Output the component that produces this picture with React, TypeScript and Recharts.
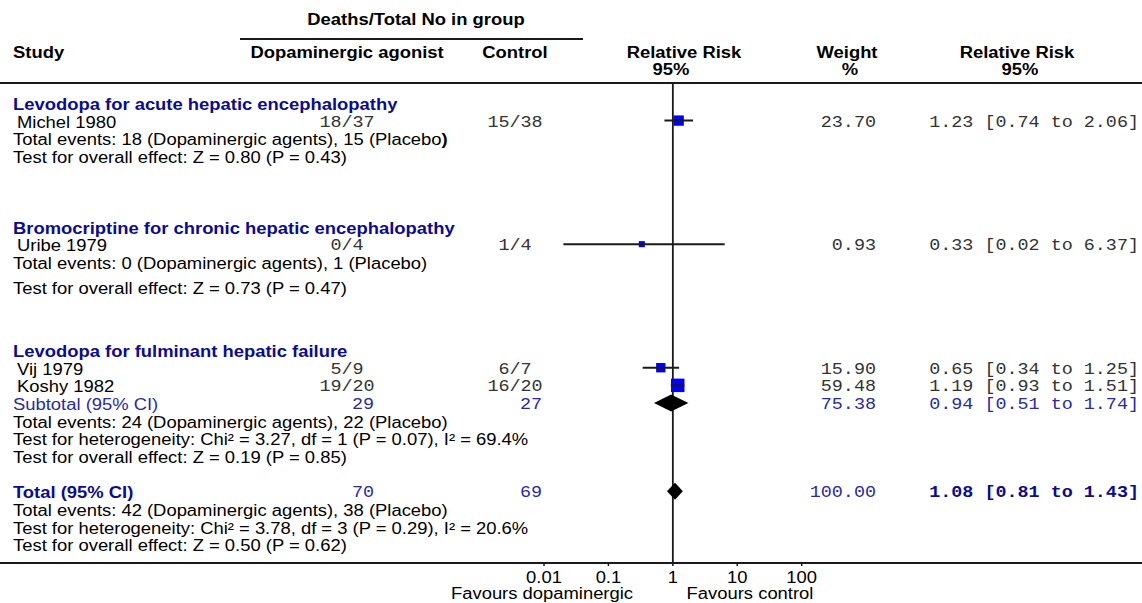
import React from "react";
import { ComposedChart, Scatter, XAxis, YAxis, ReferenceLine } from "recharts";

// ---- data ----
const groupTitles = [
  "Levodopa for acute hepatic encephalopathy",
  "Bromocriptine for chronic hepatic encephalopathy",
  "Levodopa for fulminant hepatic failure",
];

const studyNames = ["Michel 1980", "Uribe 1979", "Vij 1979", "Koshy 1982"];
const studyTreat = ["18/37", "0/4", "5/9", "19/20"];
const studyControl = ["15/38", "1/4", "6/7", "16/20"];
const studyRR = [1.23, 0.33, 0.65, 1.19];
const studyLow = [0.74, 0.02, 0.34, 0.93];
const studyHigh = [2.06, 6.37, 1.25, 1.51];
const studyWeight = [23.7, 0.93, 15.9, 59.48];

const pooledNames = ["Subtotal (95% CI)", "Total (95% CI)"];
const pooledTreat = [29, 70];
const pooledControl = [27, 69];
const pooledRR = [0.94, 1.08];
const pooledLow = [0.51, 0.81];
const pooledHigh = [1.74, 1.43];
const pooledWeight = [75.38, 100];

const xTicks = [0.01, 0.1, 1, 10, 100];

// ---- layout ----
const SANS = '"Liberation Sans", Arial, sans-serif';
const MONO = '"Liberation Mono", "Courier New", monospace';
const STRETCH = 1.15;
const W = 1142;
const H = 603;
const PLOT_TOP = 83;
const PLOT_BOTTOM = 563;
const ROW0 = 120.6;
const ROW_STEP = 17.65;
const lineY = (l: number) => ROW0 + ROW_STEP * l;
const yDomain = [(PLOT_TOP - ROW0) / ROW_STEP, (PLOT_BOTTOM - ROW0) / ROW_STEP];

const GROUP_ROWS = [-1, 6, 13];
const STUDY_ROWS = [0, 7, 14, 15];
const POOLED_ROWS = [16, 21];
const DIAMOND_HALF = 0.48;

const NAVY = "#0c0c8c";
const SUB_BLUE = "#2a2aa2";
const INK = "#1a1a1a";
const NUM = "#333";

type TProps = {
  x: number;
  y: number;
  children: React.ReactNode;
  anchor?: "start" | "middle" | "end";
  bold?: boolean;
  mono?: boolean;
  color?: string;
};

function T({ x, y, children, anchor = "start", bold, mono, color = "#000" }: TProps) {
  const shift = anchor === "middle" ? "-50%" : anchor === "end" ? "-100%" : "0";
  const origin = anchor === "middle" ? "center" : anchor === "end" ? "right" : "left";
  return (
    <div
      style={{
        position: "absolute",
        left: x,
        top: y - 8.5,
        whiteSpace: "nowrap",
        fontFamily: mono ? MONO : SANS,
        fontSize: 16,
        lineHeight: "16px",
        fontWeight: bold ? 700 : 400,
        color,
        transform: `translateX(${shift}) scaleX(${STRETCH})`,
        transformOrigin: `${origin} center`,
      }}
    >
      {children}
    </div>
  );
}

function Rule({ x1, x2, y }: { x1: number; x2: number; y: number }) {
  return (
    <div style={{ position: "absolute", left: x1, top: y - 1, width: x2 - x1, height: 2, background: INK }} />
  );
}

// square (size from weight) with the CI line drawn over it; points are [low, estimate, high]
const ciWithSquare = (weight: number) => (props: any) => {
  const pts = props.points || [];
  if (pts.length < 3) return <g />;
  const [lo, est, hi] = pts;
  const s = 5 + 1.1 * Math.sqrt(weight);
  return (
    <g>
      <rect x={est.x - s / 2} y={est.y - s / 2} width={s} height={s} fill="#0000ff" />
      <line x1={lo.x} y1={lo.y} x2={hi.x} y2={hi.y} stroke={INK} strokeWidth={2} />
    </g>
  );
};

const diamondFill = (props: any) => {
  const pts = (props.points || []).map((p: any) => `${p.x},${p.y}`).join(" ");
  return <polygon points={pts} fill="#000" stroke="none" />;
};

const Tick = (props: any) => {
  const { x, y, payload } = props;
  return (
    <g transform={`translate(${x},${y}) scale(${STRETCH},1)`}>
      <text x={0} y={0} dy={15} textAnchor="middle" fontFamily={SANS} fontSize={16} fill="#000">
        {String(payload.value)}
      </text>
    </g>
  );
};

const noDot = () => <g />;

const notes: { row: number; text: React.ReactNode }[] = [
  { row: 1, text: <>Total events: 18 (Dopaminergic agents), 15 (Placebo<b>)</b></> },
  { row: 2, text: "Test for overall effect: Z = 0.80 (P = 0.43)" },
  { row: 8, text: "Total events: 0 (Dopaminergic agents), 1 (Placebo)" },
  { row: 9.4, text: "Test for overall effect: Z = 0.73 (P = 0.47)" },
  { row: 17, text: "Total events: 24 (Dopaminergic agents), 22 (Placebo)" },
  { row: 18, text: "Test for heterogeneity: Chi² = 3.27, df = 1 (P = 0.07), I² = 69.4%" },
  { row: 19, text: "Test for overall effect: Z = 0.19 (P = 0.85)" },
  { row: 22, text: "Total events: 42 (Dopaminergic agents), 38 (Placebo)" },
  { row: 23, text: "Test for heterogeneity: Chi² = 3.78, df = 3 (P = 0.29), I² = 20.6%" },
  { row: 24, text: "Test for overall effect: Z = 0.50 (P = 0.62)" },
];

const ciText = (r: number, lo: number, hi: number) =>
  `${r.toFixed(2)} [${lo.toFixed(2)} to ${hi.toFixed(2)}]`;

export default function App() {
  const studySeries = studyNames.map((_, i) => [
    { x: studyLow[i], y: STUDY_ROWS[i] },
    { x: studyRR[i], y: STUDY_ROWS[i] },
    { x: studyHigh[i], y: STUDY_ROWS[i] },
  ]);
  const diamonds = pooledNames.map((_, i) => [
    { x: pooledLow[i], y: POOLED_ROWS[i] },
    { x: pooledRR[i], y: POOLED_ROWS[i] - DIAMOND_HALF },
    { x: pooledHigh[i], y: POOLED_ROWS[i] },
    { x: pooledRR[i], y: POOLED_ROWS[i] + DIAMOND_HALF },
  ]);

  return (
    <div style={{ position: "absolute", left: 0, top: 0, width: W, height: H, background: "#fff" }}>
      <ComposedChart
        width={W}
        height={H}
        margin={{ top: PLOT_TOP, right: W - 801.7, bottom: 0, left: 544 }}
        style={{ position: "absolute", left: 0, top: 0 }}
      >
        <XAxis
          dataKey="x"
          type="number"
          scale="log"
          domain={[0.01, 100]}
          ticks={xTicks}
          allowDataOverflow
          height={H - PLOT_BOTTOM}
          axisLine={false}
          tickLine={{ stroke: INK, strokeWidth: 1.5 }}
          tickSize={3}
          tickMargin={2}
          tick={<Tick />}
        />
        <YAxis dataKey="y" type="number" domain={yDomain} reversed hide allowDataOverflow />
        <ReferenceLine x={1} stroke={INK} strokeWidth={1.8} />
        {studySeries.map((d, i) => (
          <Scatter
            key={studyNames[i]}
            data={d}
            shape={noDot}
            line={ciWithSquare(studyWeight[i])}
            lineType="joint"
            isAnimationActive={false}
          />
        ))}
        {diamonds.map((d, i) => (
          <Scatter
            key={pooledNames[i]}
            data={d}
            shape={noDot}
            line={diamondFill}
            lineType="joint"
            isAnimationActive={false}
          />
        ))}
      </ComposedChart>

      {/* header */}
      <T x={415.5} y={20.7} anchor="middle" bold>Deaths/Total No in group</T>
      <Rule x1={240} x2={583} y={38.5} />
      <T x={13} y={53} bold>Study</T>
      <T x={346.5} y={53} anchor="middle" bold>Dopaminergic agonist</T>
      <T x={514.5} y={53} anchor="middle" bold>Control</T>
      <T x={684} y={53} anchor="middle" bold>Relative Risk</T>
      <T x={671} y={70} anchor="middle" bold>95%</T>
      <T x={847} y={53} anchor="middle" bold>Weight</T>
      <T x={850} y={70} anchor="middle" bold>%</T>
      <T x={1017} y={53} anchor="middle" bold>Relative Risk</T>
      <T x={1020} y={70} anchor="middle" bold>95%</T>
      <Rule x1={0} x2={W} y={PLOT_TOP} />

      {/* groups */}
      {groupTitles.map((g, i) => (
        <T key={g} x={13} y={lineY(GROUP_ROWS[i]) + 2.5} bold color={NAVY}>{g}</T>
      ))}

      {/* studies */}
      {studyNames.map((n, i) => {
        const y = lineY(STUDY_ROWS[i]) + 2.5;
        return (
          <React.Fragment key={n}>
            <T x={17} y={y}>{n}</T>
            <T x={346.5} y={y} anchor="middle" mono color={NUM}>{studyTreat[i]}</T>
            <T x={514.5} y={y} anchor="middle" mono color={NUM}>{studyControl[i]}</T>
            <T x={876} y={y} anchor="end" mono color={NUM}>{studyWeight[i].toFixed(2)}</T>
            <T x={1139} y={y} anchor="end" mono color={NUM}>{ciText(studyRR[i], studyLow[i], studyHigh[i])}</T>
          </React.Fragment>
        );
      })}

      {/* pooled rows */}
      {pooledNames.map((n, i) => {
        const y = lineY(POOLED_ROWS[i]) + 2.5;
        const total = i === 1;
        return (
          <React.Fragment key={n}>
            <T x={13} y={y} bold={total} color={total ? NAVY : SUB_BLUE}>{n}</T>
            <T x={374} y={y} anchor="end" mono color={SUB_BLUE}>{pooledTreat[i]}</T>
            <T x={542} y={y} anchor="end" mono color={SUB_BLUE}>{pooledControl[i]}</T>
            <T x={876} y={y} anchor="end" mono color={SUB_BLUE}>{pooledWeight[i].toFixed(2)}</T>
            <T x={1139} y={y} anchor="end" mono bold={total} color={total ? NAVY : SUB_BLUE}>
              {ciText(pooledRR[i], pooledLow[i], pooledHigh[i])}
            </T>
          </React.Fragment>
        );
      })}

      {notes.map((n, i) => (
        <T key={i} x={13} y={lineY(n.row) + 2.5}>{n.text}</T>
      ))}

      {/* axis rule and labels */}
      <Rule x1={0} x2={W} y={PLOT_BOTTOM} />
      <T x={541.7} y={594} anchor="middle">Favours dopaminergic</T>
      <T x={750} y={594} anchor="middle">Favours control</T>
    </div>
  );
}
